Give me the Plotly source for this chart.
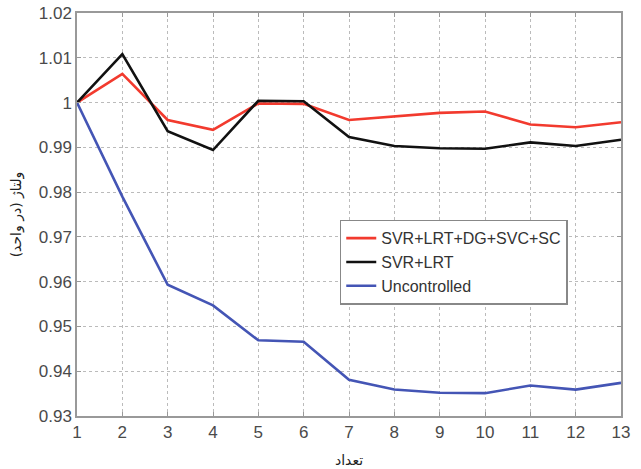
import plotly.graph_objects as go

x = list(range(1, 14))
red = [1.0, 1.0064, 0.9961, 0.9939, 0.9998, 0.9997, 0.9961, 0.9969, 0.9977, 0.9980, 0.9951, 0.9945, 0.9956]
black = [1.0, 1.0108, 0.9936, 0.9894, 1.0004, 1.0003, 0.9923, 0.9903, 0.9898, 0.9897, 0.9911, 0.9903, 0.9917]
blue = [1.0, 0.9790, 0.9593, 0.9547, 0.9469, 0.9466, 0.9381, 0.9359, 0.9352, 0.9351, 0.9368, 0.9359, 0.9374]
names = ["SVR+LRT+DG+SVC+SC", "SVR+LRT", "Uncontrolled"]
colors = ["#f23a2e", "#111111", "#4455b5"]

fig = go.Figure()
for ys, n, c in zip([red, black, blue], names, colors):
    fig.add_trace(go.Scatter(x=x, y=ys, name=n, mode="lines",
                             line=dict(color=c, width=2.6)))

axis_common = dict(
    showline=True, linecolor="#999999", linewidth=1.5, mirror="ticks",
    showgrid=True, gridcolor="#bbbbbb", griddash="dot", gridwidth=1,
    ticks="inside", ticklen=4, tickcolor="#999999",
    tickfont=dict(family="Liberation Sans, Arial", size=17, color="#4a4a4a"),
    zeroline=False, automargin=False,
)
fig.update_xaxes(range=[1, 13], tickvals=x, **axis_common,
                 title=dict(text="تعداد", font=dict(family="DejaVu Sans", size=14, color="#222"), standoff=14))
fig.update_yaxes(range=[0.93, 1.02], dtick=0.01, tickformat="~g", **axis_common,
                 title=dict(text="ولتاژ (در واحد)", font=dict(family="DejaVu Sans", size=14, color="#222"), standoff=14))

fig.update_layout(
    width=641, height=469,
    margin=dict(l=77, r=20, t=13, b=53),
    paper_bgcolor="white", plot_bgcolor="white",
    showlegend=True,
    legend=dict(x=0.483, y=0.487, xanchor="left", yanchor="top",
                bgcolor="white", bordercolor="#888888", borderwidth=1.5,
                font=dict(family="Liberation Sans, Arial", size=16, color="#333"),
                tracegroupgap=0, itemwidth=30),
)
fig.write_html("out.html")
